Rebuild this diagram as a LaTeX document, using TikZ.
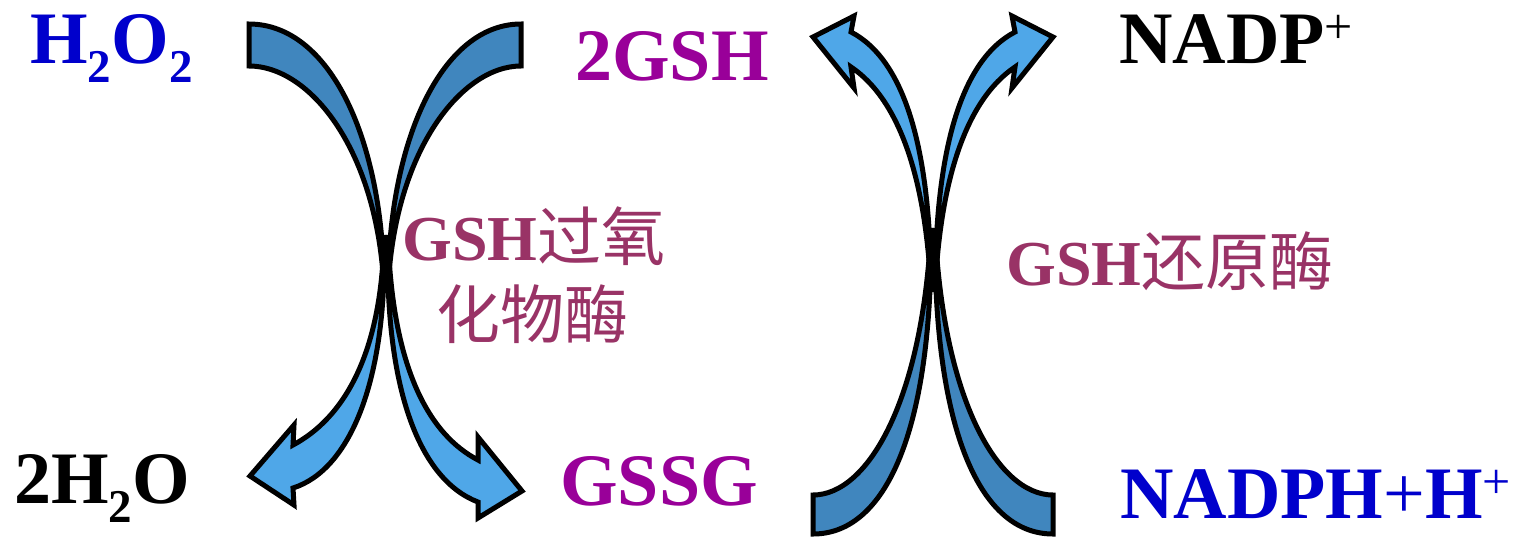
\documentclass[tikz,border=0pt]{standalone}
\usepackage{fontspec}
\setmainfont{Liberation Serif}
\newfontfamily\cjk{Noto Sans CJK SC}
\definecolor{chemblue}{HTML}{0000CC}
\definecolor{chempurple}{HTML}{990099}
\definecolor{enzmaroon}{HTML}{993366}
\definecolor{banddark}{RGB}{64,134,190}
\definecolor{bandlight}{RGB}{79,167,232}
\newcommand\chemsub[1]{\raisebox{-9.5pt}{\fontsize{23.5}{28}\selectfont\bfseries #1}}
\newcommand\chemsup[1]{\raisebox{10pt}{\fontsize{25}{28}\selectfont\mdseries #1}}
\tikzset{
  lbl/.style={anchor=base west, inner sep=0pt, font=\fontsize{37}{44}\selectfont\bfseries},
  enz/.style={anchor=base west, inner sep=0pt, text=enzmaroon, font=\fontsize{32}{38}\selectfont\bfseries},
  darkband/.style={fill=banddark, draw=black, line width=2.5pt, line join=miter},
  lightarrow/.style={fill=bandlight, draw=black, line width=2.5pt, line join=miter}
}
\begin{document}
\begin{tikzpicture}[x=0.5pt,y=-0.5pt]
\useasboundingbox (0,0) rectangle (1519,537);
% ---- left system (GSH peroxidase) ----
\coordinate (lcl) at (384,290);
\coordinate (lcr) at (388,290);
\coordinate (lbl) at (384,235);
\coordinate (lbr) at (388,235);
\draw[darkband] (249,24) .. controls (330,24) and (384,140) .. (lcl)
  .. controls (378,150) and (310,66) .. (249,66) -- cycle;
\draw[darkband] (521,24) .. controls (442,24) and (388,140) .. (lcr)
  .. controls (394,150) and (462,66) .. (521,66) -- cycle;
\draw[lightarrow] (250,476) -- (294,505) -- (293,488)
  .. controls (350,470) and (388,380) .. (lbl)
  .. controls (382,360) and (340,420) .. (293,445) -- (294,425) -- cycle;
\draw[lightarrow] (522,491) -- (478,518) -- (478,502)
  .. controls (420,480) and (384,390) .. (lbr)
  .. controls (392,370) and (430,435) .. (478,460) -- (478,437) -- cycle;
% ---- right system (GSH reductase) ----
\coordinate (rtl) at (931,292);
\coordinate (rtr) at (935,292);
\coordinate (rbl) at (931,228);
\coordinate (rbr) at (935,228);
\draw[lightarrow] (813,37) -- (854,88) -- (851,67)
  .. controls (900,100) and (926,180) .. (rtl)
  .. controls (931,150) and (905,60) .. (851,32) -- (854,16) -- cycle;
\draw[lightarrow] (1053,37) -- (1012,88) -- (1015,67)
  .. controls (966,100) and (940,180) .. (rtr)
  .. controls (935,150) and (961,60) .. (1015,32) -- (1012,16) -- cycle;
\draw[darkband] (813,495) .. controls (868,495) and (923,400) .. (rbl)
  .. controls (933,420) and (890,534) .. (813,534) -- cycle;
\draw[darkband] (1053,495) .. controls (998,495) and (943,400) .. (rbr)
  .. controls (933,420) and (976,534) .. (1053,534) -- cycle;
% ---- labels ----
\node[lbl, text=chemblue] (h2o2) at (30,63) {H\chemsub{2}O\chemsub{2}};
\node[lbl, text=chempurple] (gsh) at (575,80) {2GSH};
\node[lbl, text=black] (nadp) at (1119,63) {NADP\chemsup{+}};
\node[lbl, text=black] (h2o) at (14,503) {2H\chemsub{2}O};
\node[lbl, text=chempurple] (gssg) at (560,505) {GSSG};
\node[lbl, text=chemblue] (nadph) at (1120,518) {NADPH{\mdseries+}H\chemsup{+}};
\node[enz] (gpx) at (402,260) {GSH{\cjk\mdseries 过氧}};
\node[enz] (gpx2) at (436,338) {{\cjk\mdseries 化物酶}};
\node[enz] (gr) at (1006,285) {GSH{\cjk\mdseries 还原酶}};
\end{tikzpicture}
\end{document}
